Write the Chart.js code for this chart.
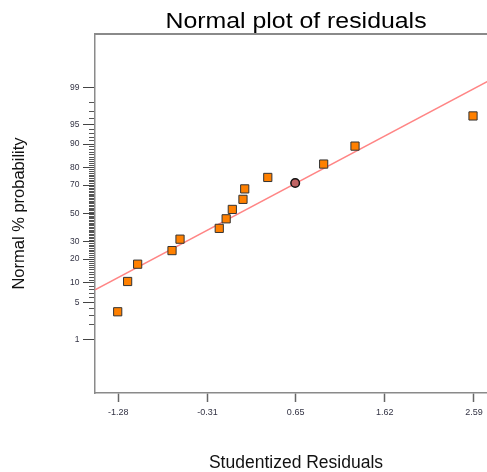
<!DOCTYPE html>
<html>
<head>
<meta charset="utf-8">
<script src="https://cdn.jsdelivr.net/npm/chart.js@4"></script>
<style>
  html, body { margin: 0; padding: 0; background: #fff; overflow: hidden; width: 487px; height: 472px; }
  #normalPlot { display: block; }
</style>
</head>
<body>
<!-- el grafico original esta recortado por la derecha: el lienzo es algo mas ancho que la ventana -->
<canvas id="normalPlot" width="497" height="472"></canvas>
<script>
// residuos estudentizados (eje x) y su probabilidad normal en %
const residuos = [-1.286, -1.178, -1.069, -0.695, -0.608, -0.181, -0.106, -0.039, 0.077, 0.096, 0.347, 0.955, 1.296, 2.580];
const probabilidades = [3.5, 10.5, 17.5, 24.7, 31.8, 39.2, 46.1, 53.0, 60.3, 67.5, 74.7, 81.9, 89.3, 96.4];

// punto destacado (circulo)
const residuoDestacado = [0.645];
const probDestacada = [71.3];

// recta de referencia, extremos
const rectaResiduos = [-1.533, 2.841];
const rectaProb = [7.93, 99.43];

// marcas de los ejes
const marcasX = [-1.28, -0.31, 0.65, 1.62, 2.59];
const marcasYConEtiqueta = [1, 5, 10, 20, 30, 50, 70, 80, 90, 95, 99];
const marcasY = Array.from({ length: 99 }, (_, i) => i + 1);

const titulo = 'Normal plot of residuals';
const tituloX = 'Studentized Residuals';
const tituloY = 'Normal % probability';

// inversa de la normal (Acklam)
function probit(p) {
  const a = [-3.969683028665376e+01, 2.209460984245205e+02, -2.759285104469687e+02, 1.383577518672690e+02, -3.066479806614716e+01, 2.506628277459239e+00];
  const b = [-5.447609879822406e+01, 1.615858368580409e+02, -1.556989798598866e+02, 6.680131188771972e+01, -1.328068155692982e+01];
  const c = [-7.784894002430293e-03, -3.223964580411365e-01, -2.400758277161838e+00, -2.549732539343734e+00, 4.374645819372042e+00, 2.938163982698783e+00];
  const d = [7.784695709041462e-03, 3.224671290700398e-01, 2.445134137142996e+00, 3.754408661907416e+00];
  const pl = 0.02425;
  let q, r;
  if (p < pl) {
    q = Math.sqrt(-2 * Math.log(p));
    return (((((c[0] * q + c[1]) * q + c[2]) * q + c[3]) * q + c[4]) * q + c[5]) / ((((d[0] * q + d[1]) * q + d[2]) * q + d[3]) * q + 1);
  }
  if (p <= 1 - pl) {
    q = p - 0.5; r = q * q;
    return (((((a[0] * r + a[1]) * r + a[2]) * r + a[3]) * r + a[4]) * r + a[5]) * q / (((((b[0] * r + b[1]) * r + b[2]) * r + b[3]) * r + b[4]) * r + 1);
  }
  q = Math.sqrt(-2 * Math.log(1 - p));
  return -(((((c[0] * q + c[1]) * q + c[2]) * q + c[3]) * q + c[4]) * q + c[5]) / ((((d[0] * q + d[1]) * q + d[2]) * q + d[3]) * q + 1);
}

const aPuntos = (xs, ps) => xs.map((x, i) => ({ x, y: probit(ps[i] / 100) }));

// titulo centrado sobre el area del grafico
const pluginTitulo = {
  id: 'tituloArea',
  afterDraw(chart) {
    const { ctx, chartArea } = chart;
    ctx.save();
    ctx.translate((chartArea.left + chartArea.right) / 2, 28);
    ctx.scale(1.13, 1);
    ctx.font = '22px Arial, "Liberation Sans", sans-serif';
    ctx.fillStyle = '#000';
    ctx.textAlign = 'center';
    ctx.textBaseline = 'alphabetic';
    ctx.fillText(titulo, 0, 0);
    ctx.restore();
  }
};

const fuente = 'Arial, "Liberation Sans", sans-serif';
const gris = '#8a8a8a';
const xMin = -1.533, xMax = 2.841;

new Chart(document.getElementById('normalPlot'), {
  type: 'scatter',
  data: {
    datasets: [
      {
        data: aPuntos(residuoDestacado, probDestacada),
        pointStyle: 'circle',
        pointRadius: 4.3,
        backgroundColor: '#c06464',
        borderColor: '#111',
        borderWidth: 1.5,
        order: 0
      },
      {
        data: aPuntos(residuos, probabilidades),
        pointStyle: 'rect',
        pointRadius: 5.8,
        backgroundColor: '#ff8000',
        borderColor: '#333',
        borderWidth: 1,
        order: 1
      },
      {
        data: aPuntos(rectaResiduos, rectaProb),
        showLine: true,
        pointRadius: 0,
        borderColor: '#ff8585',
        borderWidth: 1.5,
        order: 2
      }
    ]
  },
  options: {
    responsive: false,
    animation: false,
    layout: { autoPadding: false, padding: { top: 34, right: 0, left: 0, bottom: 0 } },
    plugins: { legend: { display: false }, tooltip: { enabled: false } },
    scales: {
      x: {
        type: 'linear',
        min: xMin, max: xMax,
        afterFit: s => { s.height = 79; },
        afterBuildTicks: s => { s.ticks = marcasX.map(v => ({ value: v })); },
        ticks: {
          autoSkip: false, maxRotation: 0, padding: 5, color: '#334',
          font: { size: 9, family: fuente },
          callback: v => v.toFixed(2)
        },
        grid: { drawOnChartArea: false, tickLength: 9, tickColor: '#666', tickWidth: 1.5 },
        border: { color: gris, width: 1.5 },
        title: {
          display: true, text: tituloX, color: '#111',
          font: { size: 17.5, family: fuente, lineHeight: 1 },
          padding: { top: 0, bottom: 0 }
        }
      },
      xTop: {
        type: 'linear', axis: 'x', position: 'top',
        min: xMin, max: xMax,
        afterFit: s => { s.height = 0; },
        ticks: { display: false },
        grid: { drawOnChartArea: false, drawTicks: false },
        border: { color: gris, width: 2 }
      },
      y: {
        type: 'linear',
        min: -3.31, max: 3.31,
        afterFit: s => { s.width = 95; },
        afterBuildTicks: s => { s.ticks = marcasY.map(p => ({ value: probit(p / 100), pct: p })); },
        ticks: {
          autoSkip: false, padding: 3.5, color: '#334',
          font: { size: 8.5, family: fuente },
          callback: (v, i, t) => marcasYConEtiqueta.includes(t[i].pct) ? String(t[i].pct) : ''
        },
        grid: {
          drawOnChartArea: false,
          tickLength: 12,
          tickWidth: 1,
          tickColor: ctx => marcasYConEtiqueta.includes(ctx.tick && ctx.tick.pct) ? '#444' : '#555',
          tickBorderDash: ctx => marcasYConEtiqueta.includes(ctx.tick && ctx.tick.pct) ? [] : [0, 6, 20]
        },
        border: { color: gris, width: 1.5 },
        title: {
          display: true, text: tituloY, color: '#111',
          font: { size: 16.5, family: fuente },
          padding: { top: 10, bottom: 0 }
        }
      }
    }
  },
  plugins: [pluginTitulo]
});
</script>
</body>
</html>
